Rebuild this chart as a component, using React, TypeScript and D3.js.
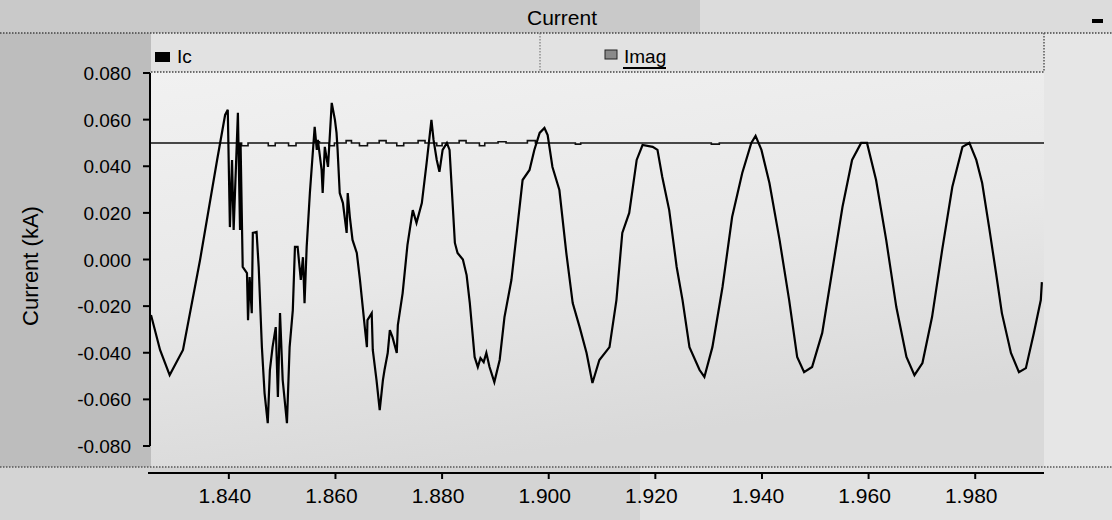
import React from "react";
import * as d3 from "d3";

// ---- data ----
const icTime = [
  1.8254, 1.8271, 1.8289, 1.8314, 1.8346, 1.8378, 1.8393, 1.8398, 1.8402, 1.8406,
  1.8409, 1.8417, 1.8421, 1.8422, 1.8426, 1.8434, 1.8436, 1.8439, 1.8443, 1.8445,
  1.8452, 1.8456, 1.8462, 1.8467, 1.8473, 1.8477, 1.8482, 1.8488, 1.8492, 1.8496,
  1.8501, 1.8509, 1.8514, 1.852, 1.8524, 1.8529, 1.8535, 1.8539, 1.8542, 1.8546,
  1.8552, 1.8561, 1.8565, 1.8567, 1.8574, 1.8576, 1.858, 1.8586, 1.8593, 1.8599,
  1.8602, 1.8604, 1.8608, 1.8614, 1.8621, 1.8623, 1.8627, 1.8632, 1.864, 1.8646,
  1.8655, 1.8659, 1.866, 1.8668, 1.867, 1.8677, 1.8683, 1.8689, 1.8692, 1.8698,
  1.8702, 1.8707, 1.8715, 1.8717, 1.8726, 1.8735, 1.8745, 1.8752, 1.8762, 1.8771,
  1.878, 1.8784, 1.879, 1.8795, 1.8801, 1.8809, 1.8814, 1.8824, 1.8829, 1.8839,
  1.8846, 1.8852, 1.8861, 1.8867, 1.8872, 1.8878, 1.8883, 1.8889, 1.8898, 1.8908,
  1.8917, 1.893, 1.894, 1.8951, 1.8964, 1.8973, 1.8983, 1.8992, 1.8998, 1.9007,
  1.902, 1.9033, 1.9045, 1.9058, 1.9071, 1.9082, 1.9095, 1.9114, 1.9127, 1.9138,
  1.9151, 1.9165, 1.9176, 1.9195, 1.9204, 1.9213, 1.9226, 1.924, 1.9251, 1.9264,
  1.9283, 1.9292, 1.9307, 1.9326, 1.9344, 1.9363, 1.938, 1.9388, 1.9399, 1.9414,
  1.9433, 1.9451, 1.9466, 1.9479, 1.9494, 1.9513, 1.9532, 1.9551, 1.9569, 1.9586,
  1.9597, 1.9614, 1.9633, 1.9652, 1.9671, 1.9686, 1.9701, 1.9719, 1.9738, 1.9757,
  1.9776, 1.9789, 1.9802, 1.9813, 1.9826, 1.9839, 1.985, 1.9867, 1.9882, 1.9895,
  1.991, 1.9923, 1.9925,
];
const icValue = [
  -0.0238, -0.0388, -0.0496, -0.0388, -0.0002, 0.0427, 0.062, 0.0642, 0.0139, 0.0427,
  0.0127, 0.0629, 0.0127, 0.05, -0.0032, -0.0058, -0.026, -0.0075, -0.023, 0.0114,
  0.0118, -0.0032, -0.0376, -0.0573, -0.0702, -0.0474, -0.0376, -0.029, -0.059, -0.023,
  -0.0517, -0.0702, -0.0376, -0.0217, 0.0054, 0.0054, -0.0088, 0.001, -0.0187, 0.0054,
  0.0285, 0.0569, 0.047, 0.0513, 0.0384, 0.0285, 0.0483, 0.0397, 0.0672, 0.0599,
  0.0543, 0.047, 0.0285, 0.0242, 0.0114, 0.0285, 0.0182, 0.0084, 0.0028, -0.0088,
  -0.029, -0.0376, -0.026, -0.023, -0.0388, -0.0517, -0.0646, -0.0517, -0.0474, -0.0401,
  -0.0303, -0.0333, -0.0401, -0.0281, -0.0144, 0.0062, 0.0212, 0.0157, 0.0242, 0.0414,
  0.0599, 0.0513, 0.0427, 0.0376, 0.047, 0.05, 0.047, 0.0071, 0.0028, 0.0,
  -0.0067, -0.0187, -0.0418, -0.0461, -0.0423, -0.044, -0.0401, -0.0461, -0.0526, -0.0431,
  -0.0247, -0.0088, 0.0114, 0.0341, 0.0384, 0.047, 0.0543, 0.0564, 0.0534, 0.0397,
  0.0298, 0.0028, -0.0187, -0.029, -0.0401, -0.053, -0.0431, -0.0376, -0.0174, 0.0114,
  0.02, 0.0427, 0.0491, 0.0483, 0.047, 0.0354, 0.0212, -0.0032, -0.0174, -0.0376,
  -0.0474, -0.0504, -0.0376, -0.0118, 0.0182, 0.0371, 0.05, 0.053, 0.047, 0.0328,
  0.0084, -0.0174, -0.0418, -0.0483, -0.0461, -0.0315, -0.0045, 0.0225, 0.0427, 0.05,
  0.05, 0.0341, 0.0084, -0.0204, -0.0418, -0.0496, -0.0444, -0.0247, 0.0041, 0.0311,
  0.0483, 0.05, 0.0427, 0.0328, 0.0139, -0.0058, -0.023, -0.0401, -0.0483, -0.0466,
  -0.0315, -0.0174, -0.0097,
];
const imagTime = [
  1.8254, 1.8424, 1.8436, 1.8474, 1.8487, 1.8512, 1.8526, 1.856, 1.857, 1.8588,
  1.8598, 1.862, 1.863, 1.8645, 1.866, 1.8682, 1.8695, 1.8715, 1.8728, 1.8755,
  1.8768, 1.879, 1.88, 1.8832, 1.8845, 1.887, 1.888, 1.8905, 1.892, 1.896,
  1.8975, 1.905, 1.906, 1.9305, 1.932, 1.9929,
];
const imagValue = [
  0.05, 0.0488, 0.05, 0.0488, 0.05, 0.0488, 0.05, 0.0505, 0.05, 0.0488,
  0.05, 0.051, 0.05, 0.0488, 0.05, 0.051, 0.05, 0.0488, 0.05, 0.051,
  0.05, 0.0488, 0.05, 0.051, 0.05, 0.0488, 0.05, 0.0505, 0.05, 0.051,
  0.05, 0.0495, 0.05, 0.0495, 0.05, 0.05,
];
const xTicks = [1.84, 1.86, 1.88, 1.9, 1.92, 1.94, 1.96, 1.98];
const yTicks = [0.08, 0.06, 0.04, 0.02, 0.0, -0.02, -0.04, -0.06, -0.08];
const seriesNames = ["Ic", "Imag"];
const chartTitle = "Current";
const yAxisTitle = "Current (kA)";

const W = 1112;
const H = 520;
const FONT = "'Liberation Sans', Arial, Helvetica, sans-serif";

export default function App() {
  const left = 151;
  const right = 1044;
  const x = d3.scaleLinear().domain([1.8254, 1.9929]).range([left, right]);
  const y = d3.scaleLinear().domain([-0.08, 0.08]).range([446, 73]);

  const icPts = icTime.map((t, i) => [t, icValue[i]] as [number, number]);
  const imPts = imagTime.map((t, i) => [t, imagValue[i]] as [number, number]);
  const icLine = d3
    .line<[number, number]>()
    .x((d) => x(d[0]))
    .y((d) => y(d[1]))
    .curve(d3.curveLinear)(icPts) as string;
  const imLine = d3
    .line<[number, number]>()
    .x((d) => x(d[0]))
    .y((d) => y(d[1]))
    .curve(d3.curveStepAfter)(imPts) as string;

  const axisY = 473;
  const dot = "1.5,1.5";

  return (
    <svg
      width={W}
      height={H}
      style={{ position: "absolute", left: 0, top: 0, display: "block" }}
      fontFamily={FONT}
    >
      <defs>
        <linearGradient id="plotbg" x1="0" y1="0" x2="0.3" y2="1">
          <stop offset="0" stopColor="#f1f1f1" />
          <stop offset="0.55" stopColor="#e8e8e8" />
          <stop offset="1" stopColor="#d9d9d9" />
        </linearGradient>
        <clipPath id="plotclip">
          <rect x={left} y={60} width={right - left + 2} height={400} />
        </clipPath>
      </defs>

      {/* scanned paper background */}
      <rect x={0} y={0} width={W} height={H} fill="#d2d2d2" />
      <rect x={0} y={0} width={W} height={33} fill="#c9c9c9" />
      <rect x={700} y={0} width={W - 700} height={33} fill="#dcdcdc" />
      <rect x={0} y={33} width={left} height={434} fill="#bdbdbd" />
      <rect x={left} y={33} width={right - left} height={39} fill="#e2e2e2" />
      <rect x={left} y={72} width={right - left} height={395} fill="url(#plotbg)" />
      <rect x={right} y={33} width={W - right} height={434} fill="#e6e6e6" />
      <rect x={0} y={467} width={W} height={53} fill="#d4d4d4" />
      <rect x={640} y={467} width={W - 640} height={53} fill="#e2e2e2" />

      {/* frame separators (dotted) */}
      <line x1={0} x2={W} y1={33} y2={33} stroke="#444" strokeWidth={1.5} strokeDasharray={dot} />
      <line x1={left} x2={right} y1={72} y2={72} stroke="#444" strokeWidth={1.5} strokeDasharray={dot} />
      <line x1={540} x2={540} y1={33} y2={72} stroke="#666" strokeWidth={1} strokeDasharray={dot} />
      <line x1={right} x2={right} y1={33} y2={72} stroke="#555" strokeWidth={1.5} strokeDasharray={dot} />
      <line x1={0} x2={W} y1={467} y2={467} stroke="#555" strokeWidth={1.5} strokeDasharray={dot} />

      {/* title */}
      <text x={562} y={25} textAnchor="middle" fontSize={21} fill="#000">
        {chartTitle}
      </text>
      <rect x={1092} y={19} width={11} height={4} fill="#000" />

      {/* legend */}
      <rect x={155} y={52} width={15} height={10} fill="#000" />
      <text x={177} y={63} fontSize={19} fill="#000">
        {seriesNames[0]}
      </text>
      <rect x={605} y={50} width={12} height={9} fill="#8a8a8a" stroke="#222" strokeWidth={1} />
      <text x={624} y={63} fontSize={19} fill="#000">
        {seriesNames[1]}
      </text>
      <line x1={623} x2={666} y1={68} y2={68} stroke="#000" strokeWidth={2} />

      {/* y axis */}
      <line x1={150} x2={150} y1={y(0.08)} y2={y(-0.08)} stroke="#000" strokeWidth={2} />
      {yTicks.map((v) => (
        <g key={v}>
          <line x1={143} x2={150} y1={y(v)} y2={y(v)} stroke="#000" strokeWidth={2} />
          <text x={131} y={y(v) + 7} textAnchor="end" fontSize={19} fill="#000">
            {d3.format(".3f")(v).replace("−", "-")}
          </text>
        </g>
      ))}
      <text
        transform={`translate(38,266) rotate(-90)`}
        textAnchor="middle"
        fontSize={22}
        fill="#000"
      >
        {yAxisTitle}
      </text>

      {/* x axis */}
      <line x1={148} x2={right} y1={axisY} y2={axisY} stroke="#000" strokeWidth={2} />
      {xTicks.map((t) => (
        <g key={t}>
          <line x1={x(t)} x2={x(t)} y1={axisY} y2={axisY + 6} stroke="#000" strokeWidth={2} />
          <text x={x(t) - 4} y={503} textAnchor="middle" fontSize={21} fill="#000">
            {d3.format(".3f")(t)}
          </text>
        </g>
      ))}

      {/* series */}
      <g clipPath="url(#plotclip)">
        <path d={imLine} fill="none" stroke="#111" strokeWidth={1.6} />
        <path d={icLine} fill="none" stroke="#000" strokeWidth={2.2} strokeLinejoin="miter" />
      </g>
    </svg>
  );
}
